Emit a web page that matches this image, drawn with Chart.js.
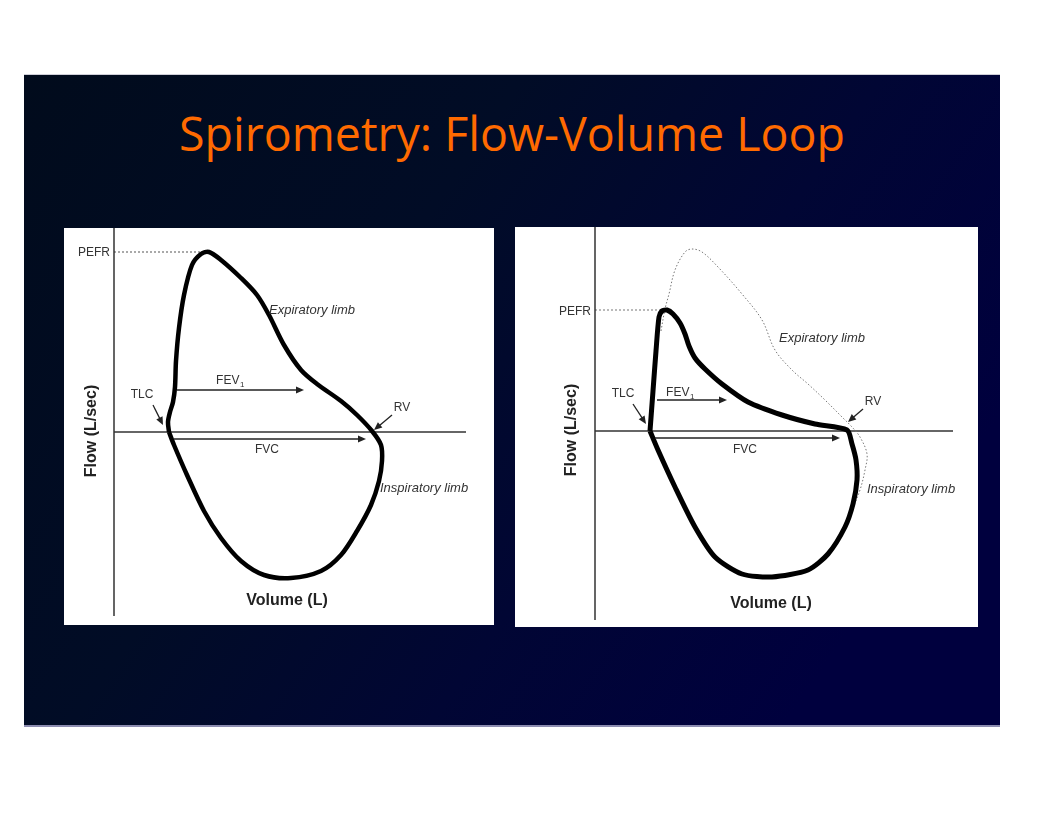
<!DOCTYPE html>
<html>
<head>
<meta charset="utf-8">
<script src="https://cdn.jsdelivr.net/npm/chart.js@4.4.1/dist/chart.umd.min.js"></script>
<style>
  html, body { margin: 0; padding: 0; background: #fff; }
  body { width: 1056px; height: 816px; position: relative; overflow: hidden; }
  .slide {
    position: absolute; left: 24px; top: 74px; width: 976px; height: 650px;
    border-top: 1px solid #cfcfd8; border-bottom: 2px solid #8c8cb0;
    background: linear-gradient(125deg, #010b1c 0%, #010c26 35%, #010634 60%, #00003e 85%, #00003e 100%);
  }
  .title {
    position: absolute; left: 179px; top: 110px; white-space: nowrap;
    font-family: "Open Sans", sans-serif; font-size: 47px; line-height: 1;
    color: #ff6a00; transform-origin: 0 0;
  }
  .panel { position: absolute; background: #fff; }
  #p1 { left: 64px; top: 228px; width: 430px; height: 397px; }
  #p2 { left: 515px; top: 227px; width: 463px; height: 400px; }
</style>
</head>
<body>
<div class="slide"></div>
<div class="title" id="title">Spirometry: Flow-Volume Loop</div>
<div class="panel" id="p1"><canvas id="c1"></canvas></div>
<div class="panel" id="p2"><canvas id="c2"></canvas></div>
<script>
// ===== DATA (volume / flow in relative units, origin at TLC axis crossing) =====
// left panel: normal loop
const normalVolume = [55, 54, 56, 59, 61, 62, 65, 70, 78, 87, 95, 107, 127, 143, 155, 170, 187, 203, 227, 243, 258,
  267, 268, 265, 257, 243, 227, 207, 177, 150, 127, 107, 90, 73, 60, 55];
const normalFlow = [0, 10, 20, 30, 45, 71, 104, 137, 167, 178, 180, 172, 154, 137, 117, 87, 62, 48, 31, 17, 1,
  -13, -29, -49, -73, -99, -123, -139, -146, -143, -129, -106, -79, -43, -13, 0];

// right panel: obstructive loop
const obstrVolume = [55, 58, 61, 64, 67, 72, 78, 85, 90, 94, 100, 110, 127, 153, 187, 220, 252,
  257, 261, 262, 258, 250, 233, 213, 177, 147, 120, 100, 80, 63, 55];
const obstrFlow = [0, 40, 80, 114, 120, 121, 117, 108, 97, 85, 73, 62, 47, 29, 16, 7, 1,
  -13, -29, -49, -73, -96, -123, -139, -146, -143, -126, -96, -56, -19, 0];

// right panel: dotted normal reference
const refVolume = [66, 70, 74, 80, 90, 97, 107, 123, 147, 167, 180, 197, 213, 230, 247, 257, 265, 272, 270, 265, 257];
const refFlow = [100, 122, 137, 161, 179, 182, 179, 164, 137, 111, 81, 61, 47, 31, 14, 4, -6, -23, -39, -59, -79];

// axes extents and PEFR markers
const leftAxisX = [0, 0], leftAxisY = [204, -184];
const leftBaseX = [0, 352], leftBaseY = [0, 0];
const leftPefrX = [0, 93], leftPefrY = [180, 180];
const rightAxisX = [0, 0], rightAxisY = [204, -189];
const rightBaseX = [0, 358], rightBaseY = [0, 0];
const rightPefrX = [0, 68], rightPefrY = [121, 121];

// arrows [x1, y1, x2, y2]
const leftArrows = [[39, 27, 49, 7], [63, 42, 190, 42], [60, -7, 252, -7], [278, 17, 260, 2]];
const rightArrows = [[38, 27, 51, 7], [62, 31, 132, 31], [60, -7, 245, -7], [268, 22, 253, 9]];

// labels
const leftLabels = [
  { text: "PEFR", x: -4, y: 179, align: "right", font: "12px 'Liberation Sans'" },
  { text: "TLC", x: 28, y: 37, font: "12px 'Liberation Sans'" },
  { text: "FEV", sub: "1", x: 116, y: 51, font: "12px 'Liberation Sans'" },
  { text: "FVC", x: 153, y: -18, font: "12px 'Liberation Sans'" },
  { text: "RV", x: 288, y: 24, font: "12px 'Liberation Sans'" },
  { text: "Expiratory limb", x: 155, y: 122, align: "left", font: "italic 13px 'Liberation Sans'" },
  { text: "Inspiratory limb", x: 266, y: -56, align: "left", font: "italic 13px 'Liberation Sans'" },
  { text: "Flow (L/sec)", x: -22, y: 1, rotate: true, font: "bold 16px 'Liberation Sans'", color: "#222" },
  { text: "Volume (L)", x: 173, y: -169, font: "bold 16px 'Liberation Sans'", color: "#222" }
];
const rightLabels = [
  { text: "PEFR", x: -4, y: 119, align: "right", font: "12px 'Liberation Sans'" },
  { text: "TLC", x: 28, y: 37, font: "12px 'Liberation Sans'" },
  { text: "FEV", sub: "1", x: 85, y: 38, font: "12px 'Liberation Sans'" },
  { text: "FVC", x: 150, y: -19, font: "12px 'Liberation Sans'" },
  { text: "RV", x: 278, y: 29, font: "12px 'Liberation Sans'" },
  { text: "Expiratory limb", x: 184, y: 93, align: "left", font: "italic 13px 'Liberation Sans'" },
  { text: "Inspiratory limb", x: 272, y: -58, align: "left", font: "italic 13px 'Liberation Sans'" },
  { text: "Flow (L/sec)", x: -23, y: 1, rotate: true, font: "bold 16px 'Liberation Sans'", color: "#222" },
  { text: "Volume (L)", x: 176, y: -173, font: "bold 16px 'Liberation Sans'", color: "#222" }
];

// ===== HELPERS =====
function pts(xs, ys) {
  return xs.map((v, i) => ({ x: v, y: ys[i] }));
}

function lineSet(xs, ys, style) {
  return Object.assign({
    data: pts(xs, ys),
    showLine: true,
    pointRadius: 0,
    borderColor: "#333",
    borderWidth: 1.5,
    tension: 0,
    fill: false
  }, style);
}

// draws arrows and text through the chart's scales
const annotate = {
  id: "annotate",
  afterDatasetsDraw(chart, args, opts) {
    const ctx = chart.ctx;
    const sx = chart.scales.x, sy = chart.scales.y;
    ctx.save();
    (opts.arrows || []).forEach((a) => {
      const x1 = sx.getPixelForValue(a[0]), y1 = sy.getPixelForValue(a[1]);
      const x2 = sx.getPixelForValue(a[2]), y2 = sy.getPixelForValue(a[3]);
      const ang = Math.atan2(y2 - y1, x2 - x1);
      ctx.strokeStyle = "#222";
      ctx.fillStyle = "#222";
      ctx.lineWidth = 1.3;
      ctx.beginPath();
      ctx.moveTo(x1, y1);
      ctx.lineTo(x2 - 6 * Math.cos(ang), y2 - 6 * Math.sin(ang));
      ctx.stroke();
      ctx.beginPath();
      ctx.moveTo(x2, y2);
      ctx.lineTo(x2 - 8 * Math.cos(ang) + 3.5 * Math.sin(ang), y2 - 8 * Math.sin(ang) - 3.5 * Math.cos(ang));
      ctx.lineTo(x2 - 8 * Math.cos(ang) - 3.5 * Math.sin(ang), y2 - 8 * Math.sin(ang) + 3.5 * Math.cos(ang));
      ctx.closePath();
      ctx.fill();
    });
    (opts.labels || []).forEach((l) => {
      const px = sx.getPixelForValue(l.x), py = sy.getPixelForValue(l.y);
      ctx.font = l.font;
      ctx.fillStyle = l.color || "#333";
      ctx.textBaseline = "middle";
      ctx.save();
      ctx.translate(px, py);
      if (l.rotate) ctx.rotate(-Math.PI / 2);
      let w = ctx.measureText(l.text).width;
      let subW = 0;
      if (l.sub) {
        ctx.font = "8px 'Liberation Sans'";
        subW = ctx.measureText(l.sub).width;
        ctx.font = l.font;
      }
      const total = w + subW;
      let x0 = -total / 2;
      if (l.align === "left") x0 = 0;
      if (l.align === "right") x0 = -total;
      ctx.textAlign = "left";
      ctx.fillText(l.text, x0, 0);
      if (l.sub) {
        ctx.font = "8px 'Liberation Sans'";
        ctx.fillText(l.sub, x0 + w + 0.5, 4);
      }
      ctx.restore();
    });
    ctx.restore();
  }
};

function makeChart(id, range, datasets, arrows, labels) {
  return new Chart(document.getElementById(id), {
    type: "scatter",
    data: { datasets: datasets },
    options: {
      responsive: true,
      maintainAspectRatio: false,
      animation: false,
      events: [],
      layout: { padding: 0 },
      plugins: {
        legend: { display: false },
        tooltip: { enabled: false },
        annotate: { arrows: arrows, labels: labels }
      },
      scales: {
        x: { type: "linear", display: false, min: range[0], max: range[1] },
        y: { type: "linear", display: false, min: range[2], max: range[3] }
      }
    },
    plugins: [annotate]
  });
}

// ===== CHARTS =====
makeChart("c1", [-50, 380, -193, 204], [
  lineSet(normalVolume, normalFlow, { borderColor: "#000", borderWidth: 4.5, tension: 0.3, order: 0 }),
  lineSet(leftAxisX, leftAxisY, { order: 2 }),
  lineSet(leftBaseX, leftBaseY, { order: 2 }),
  lineSet(leftPefrX, leftPefrY, { borderColor: "#555", borderWidth: 1, borderDash: [2, 2], order: 2 })
], leftArrows, leftLabels);

makeChart("c2", [-80, 383, -196, 204], [
  lineSet(obstrVolume, obstrFlow, { borderColor: "#000", borderWidth: 5, tension: 0.25, order: 0 }),
  lineSet(refVolume, refFlow, { borderColor: "#777", borderWidth: 1, borderDash: [1.5, 2], tension: 0.35, order: 1 }),
  lineSet(rightAxisX, rightAxisY, { order: 2 }),
  lineSet(rightBaseX, rightBaseY, { order: 2 }),
  lineSet(rightPefrX, rightPefrY, { borderColor: "#777", borderWidth: 1, borderDash: [2, 2], order: 2 })
], rightArrows, rightLabels);

// fit the slide title to the original width
const title = document.getElementById("title");
const tw = title.getBoundingClientRect().width;
title.style.transform = "scaleX(" + (666 / tw) + ")";
</script>
</body>
</html>
